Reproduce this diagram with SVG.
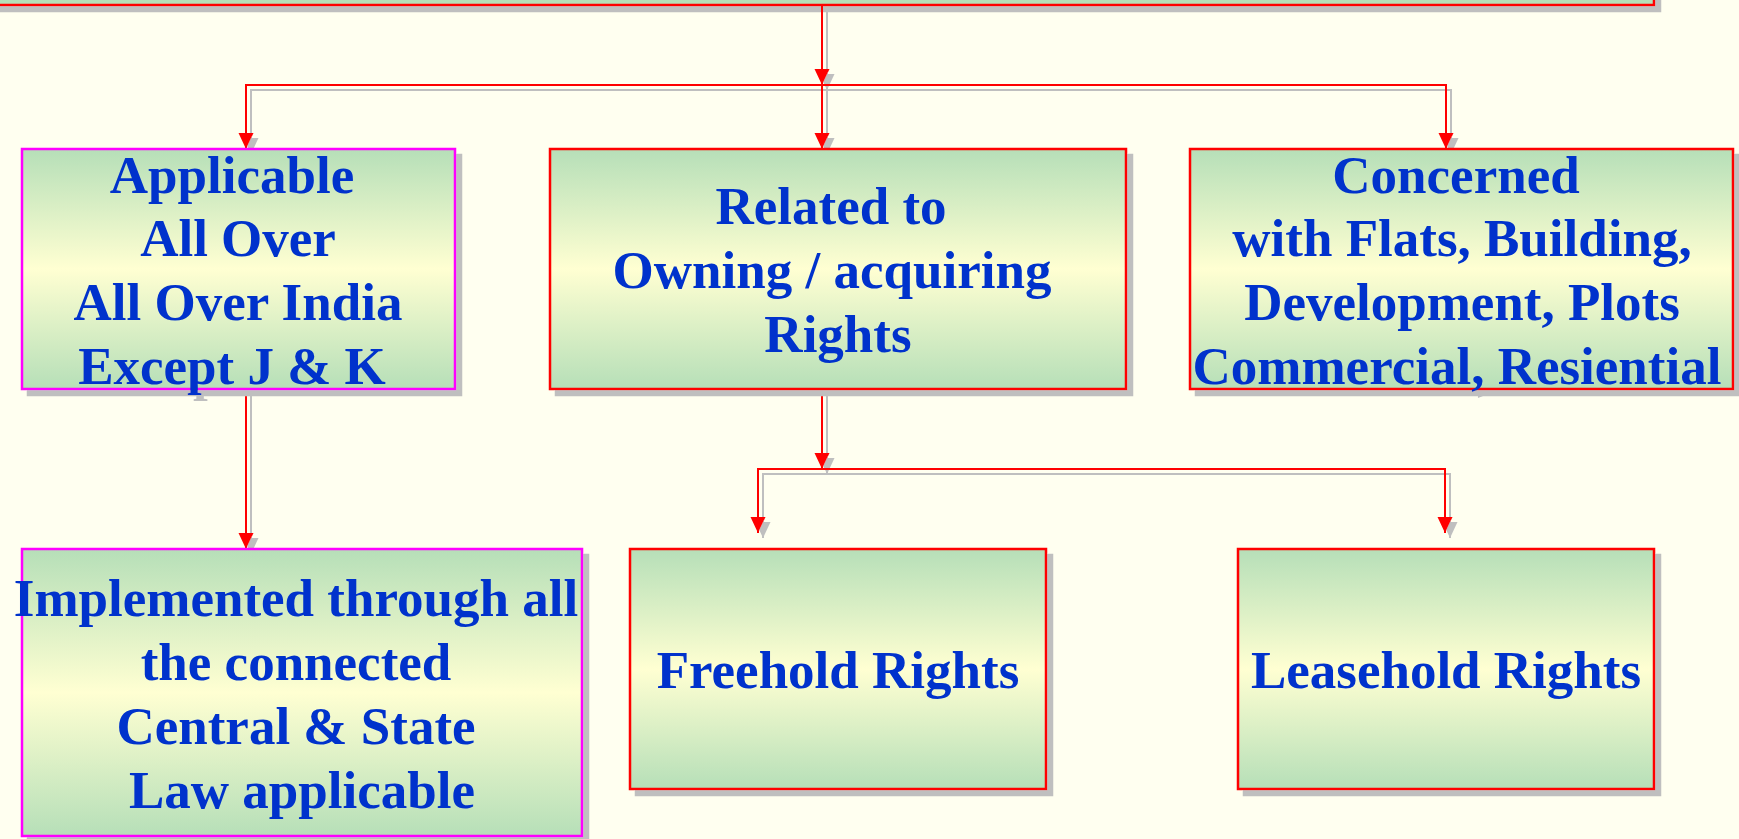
<svg xmlns="http://www.w3.org/2000/svg" width="1739" height="839" viewBox="0 0 1739 839">
<defs>
<linearGradient id="g" x1="0" y1="0" x2="0" y2="1">
<stop offset="0" stop-color="#B6DFB8"/>
<stop offset="0.5" stop-color="#FFFFD2"/>
<stop offset="1" stop-color="#B6DFB8"/>
</linearGradient>
<filter id="sh" filterUnits="userSpaceOnUse" x="-50" y="-300" width="1839" height="1239">
<feFlood flood-color="#BFBFBF" result="f"/>
<feComposite in="f" in2="SourceAlpha" operator="in" result="s"/>
<feOffset in="s" dx="6" dy="6" result="o"/>
<feMerge><feMergeNode in="o"/><feMergeNode in="SourceGraphic"/></feMerge>
</filter>
<filter id="shl" filterUnits="userSpaceOnUse" x="-50" y="-300" width="1839" height="1239">
<feFlood flood-color="#BFBFBF" result="f"/>
<feComposite in="f" in2="SourceAlpha" operator="in" result="s"/>
<feOffset in="s" dx="5" dy="5" result="o"/>
<feMerge><feMergeNode in="o"/><feMergeNode in="SourceGraphic"/></feMerge>
</filter>
<marker id="ah" markerUnits="userSpaceOnUse" markerWidth="16" markerHeight="16" viewBox="0 0 16 16" refX="16" refY="8" orient="auto">
<path d="M0,0.5 L16,8 L0,15.5 z" fill="#FF0000"/>
</marker>
</defs>
<style>
.box{fill:url(#g);stroke-width:2.5}
.red{stroke:#FF0000}
.mag{stroke:#FF00FF}
.t{font-family:"Liberation Serif","Times New Roman",serif;font-weight:bold;font-size:53px;fill:#0033CC;text-anchor:middle}
.c{fill:none;stroke:#FF0000;stroke-width:2;marker-end:url(#ah)}
</style>
<rect x="0" y="0" width="1739" height="839" fill="#FFFFF0"/>

<g id="top" filter="url(#sh)">
<rect x="-20" y="-200" width="1674" height="205" fill="#B6DFB8" stroke="#FF0000" stroke-width="2.5"/>
</g>

<g id="connectors" filter="url(#shl)">
<path class="c" d="M822,5 V85"/>
<path class="c" d="M822,85 H246 V149"/>
<path class="c" d="M822,85 V149"/>
<path class="c" d="M822,85 H1446 V149"/>
<path class="c" d="M246,389 V549"/>
<path class="c" d="M822,389 V469"/>
<path class="c" d="M822,469 H758 V533"/>
<path class="c" d="M822,469 H1445 V533"/>
</g>

<g id="applicable" filter="url(#sh)">
<rect class="box mag" x="22" y="149" width="433" height="240"/>
<text class="t" x="232" y="193">Applicable</text>
<text class="t" x="238" y="256">All Over</text>
<text class="t" x="238" y="320">All Over India</text>
<text class="t" x="232" y="384">Except J &amp; K</text>
</g>

<g id="related" filter="url(#sh)">
<rect class="box red" x="550" y="149" width="576" height="240"/>
<text class="t" x="831" y="224">Related to</text>
<text class="t" x="832" y="288">Owning / acquiring</text>
<text class="t" x="838" y="352">Rights</text>
</g>

<g id="concerned" filter="url(#sh)">
<rect class="box red" x="1190" y="149" width="543" height="240"/>
<text class="t" x="1456" y="193">Concerned</text>
<text class="t" x="1462" y="256">with Flats, Building,</text>
<text class="t" x="1462" y="320">Development, Plots</text>
<text class="t" x="1457" y="384">Commercial, Resiential</text>
</g>

<g id="implemented" filter="url(#sh)">
<rect class="box mag" x="22" y="549" width="560" height="287"/>
<text class="t" x="296" y="616">Implemented through all</text>
<text class="t" x="296" y="680">the connected</text>
<text class="t" x="296" y="744">Central &amp; State</text>
<text class="t" x="302" y="808">Law applicable</text>
</g>

<g id="freehold" filter="url(#sh)">
<rect class="box red" x="630" y="549" width="416" height="240"/>
<text class="t" x="838" y="688">Freehold Rights</text>
</g>

<g id="leasehold" filter="url(#sh)">
<rect class="box red" x="1238" y="549" width="416" height="240"/>
<text class="t" x="1446" y="688">Leasehold Rights</text>
</g>
</svg>
